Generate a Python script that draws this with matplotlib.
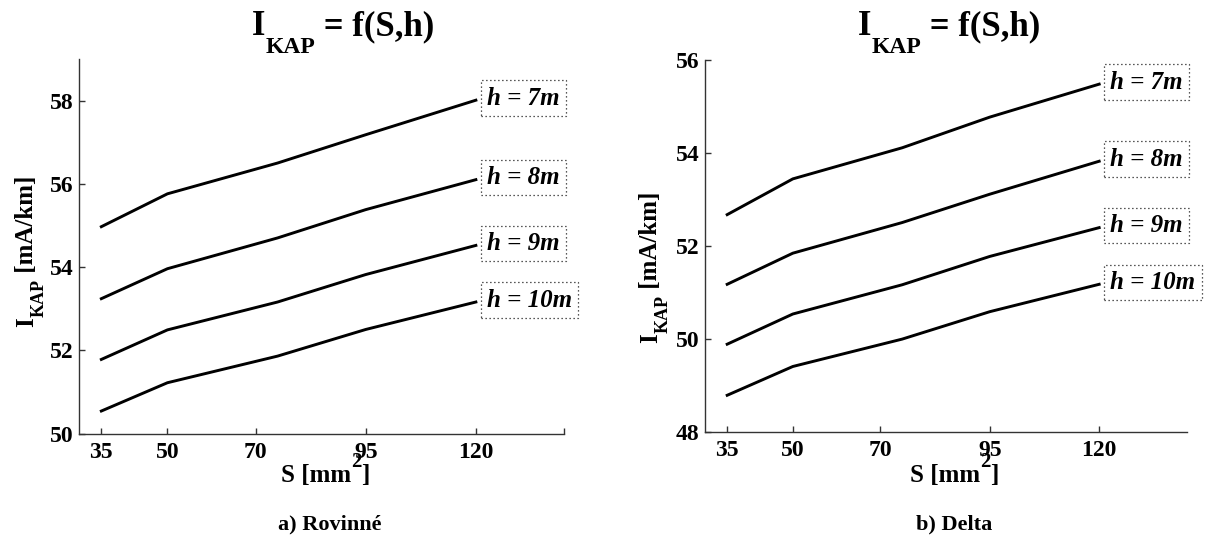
import matplotlib
matplotlib.use("Agg")
import matplotlib.pyplot as plt

# Conductor cross-sections and the tick labels of the S axis
S = [35, 50, 75, 95, 120]
s_ticks = [35, 50, 70, 95, 120]
h_labels = ["h = 7m", "h = 8m", "h = 9m", "h = 10m"]

# a) Rovinné - capacitive current per km for each conductor height
rov_h7 = [54.97, 55.76, 56.50, 57.18, 58.01]
rov_h8 = [53.24, 53.96, 54.70, 55.38, 56.10]
rov_h9 = [51.78, 52.49, 53.16, 53.82, 54.52]
rov_h10 = [50.54, 51.22, 51.86, 52.50, 53.16]
rov_yticks = [50, 52, 54, 56, 58]

# b) Delta
del_h7 = [52.67, 53.44, 54.11, 54.77, 55.48]
del_h8 = [51.17, 51.84, 52.50, 53.11, 53.82]
del_h9 = [49.88, 50.53, 51.16, 51.77, 52.39]
del_h10 = [48.78, 49.40, 49.99, 50.58, 51.17]
del_yticks = [48, 50, 52, 54, 56]

W, H, DPI = 1212, 539, 100
SERIF = "Liberation Serif"

fig = plt.figure(figsize=(W / DPI, H / DPI), dpi=DPI)
fig.patch.set_facecolor("white")


def chain(pieces, x0, base0, rotated=False):
    """Draw a run of text pieces, each starting where the previous one ends.
    pieces: (text, fontsize, shift_px) where shift moves the baseline
    down (horizontal) or right (rotated), in pixels."""
    prev = None
    for txt, size, shift in pieces:
        kw = dict(fontsize=size, fontweight="bold", family=SERIF,
                  ha="left", va="baseline", annotation_clip=False)
        if rotated:
            kw.update(rotation=90, rotation_mode="anchor")
            x = x0 + shift
            if prev is None:
                a = fig.add_artist(matplotlib.text.Annotation(
                    txt, xy=(x, H - base0), xycoords="figure pixels", **kw))
            else:
                a = fig.add_artist(matplotlib.text.Annotation(
                    txt, xy=(x, 1), xycoords=("figure pixels", prev), **kw))
        else:
            y = H - (base0 + shift)
            if prev is None:
                a = fig.add_artist(matplotlib.text.Annotation(
                    txt, xy=(x0, y), xycoords="figure pixels", **kw))
            else:
                a = fig.add_artist(matplotlib.text.Annotation(
                    txt, xy=(1, y), xycoords=(prev, "figure pixels"), **kw))
        prev = a
    return prev


def panel(rect_px, series, yticks, ylim, caption, title_x, xlab_x, ylab_x,
          ylab_base, end_tick):
    l, t, r, b = rect_px
    ax = fig.add_axes([l / W, (H - b) / H, (r - l) / W, (b - t) / H])
    for y in series:
        ax.plot(S, y, color="black", lw=2.1, solid_joinstyle="miter")
    for y, lbl in zip(series, h_labels):
        ax.annotate(lbl, xy=(S[-1], y[-1]), xytext=(11, 2),
                    textcoords="offset pixels", ha="left", va="center",
                    fontsize=18, family=SERIF, style="italic",
                    fontweight="bold", annotation_clip=False,
                    bbox=dict(boxstyle="square,pad=0.25", fc="white",
                              ec="#222222", lw=0.9, ls=(0, (1, 2.2))))
    ax.set_xlim(30, 140)
    ax.set_ylim(*ylim)
    ax.set_xticks(s_ticks)
    ax.set_xticklabels([str(v) for v in s_ticks])
    ax.set_yticks(yticks)
    ax.set_yticklabels([str(v) for v in yticks])
    if end_tick:
        ax.set_xticks([140], minor=True)
    for side in ("top", "right"):
        ax.spines[side].set_visible(False)
    for side in ("left", "bottom"):
        ax.spines[side].set_linewidth(1.0)
        ax.spines[side].set_color("#333333")
    ax.tick_params(which="both", direction="in", length=4, width=1.0,
                   color="#333333")
    ax.tick_params(axis="x", pad=6)
    ax.tick_params(axis="y", pad=4)
    for lab in ax.get_xticklabels() + ax.get_yticklabels():
        lab.set_fontfamily(SERIF)
        lab.set_fontweight("bold")
        lab.set_fontsize(17)

    # title  I_KAP = f(S,h)
    chain([("I", 25, 0), ("KAP", 17, 18), (" = f(S,h)", 25, 0)],
          title_x, 35)
    # x label  S [mm^2]
    chain([("S [mm", 18, 0), ("2", 15, -15), ("]", 18, 0)], xlab_x, 482)
    # y label  I_KAP [mA/km]
    chain([("I", 18, 0), ("KAP", 13, 11), (" [mA/km]", 18, 0)],
          ylab_x, ylab_base, rotated=True)
    # sub-caption
    fig.text(((l + r) / 2 + 8) / W, (H - 524) / H, caption, ha="center",
             va="center", fontsize=16, fontweight="bold", family=SERIF)
    return ax


panel((79.3, 59, 564, 433.5), [rov_h7, rov_h8, rov_h9, rov_h10],
      rov_yticks, (50, 59), "a) Rovinné", 252, 281, 33, 327, True)
panel((705.3, 60, 1186.7, 431.5), [del_h7, del_h8, del_h9, del_h10],
      del_yticks, (48, 56), "b) Delta", 858, 910, 657, 343, False)

fig.savefig("out.png", dpi=DPI, facecolor="white")
